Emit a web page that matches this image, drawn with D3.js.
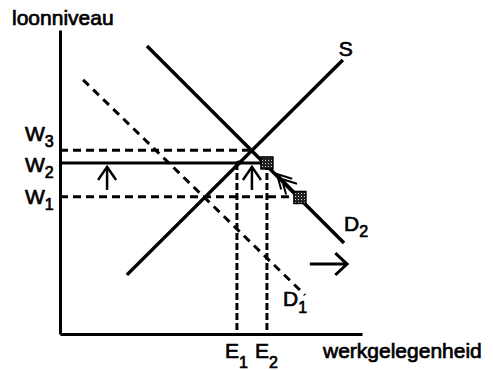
<!DOCTYPE html>
<html><head><meta charset="utf-8">
<script src="https://cdn.jsdelivr.net/npm/d3@7"></script>
<style>body{margin:0;background:#fff}svg{display:block}text{font-family:"Liberation Sans",Arial,Helvetica,sans-serif;fill:#000}</style>
</head><body><div id="chart"></div>
<script>
// ---- data ----
const yAxisTitle = "loonniveau";
const xAxisTitle = "werkgelegenheid";
const wageNames = ["W", "W", "W"];
const wageSubs = ["3", "2", "1"];
const wageValues = [61.2, 57, 45.7];
const empNames = ["E", "E"];
const empSubs = ["1", "2"];
const empValues = [59, 69];
const supplyX = [22.3, 94.3];
const supplyY = [19.7, 91.3];
const demand1X = [7.7, 81.7];
const demand1Y = [84.7, 13];
const demand2X = [29, 94.7];
const demand2Y = [96, 30.3];
const pointX = [69, 80];
const pointY = [57, 45.5];
const equilibriumX = 63.8;
const equilibriumY = 61.2;
const dotX = 59.5;
const dotY = 57;
const upArrowX = [15.7, 64];
const upArrowY = [48, 55.7];
const shiftArrowX = [83.3, 95.7];
const shiftArrowY = [23.3, 23.3];
const moveArrowX = [78.5, 72.3];
const moveArrowY = [47, 53.3];

// ---- drawing ----
const W = 493, H = 370;
const svg = d3.select("#chart").append("svg").attr("width", W).attr("height", H);
const x = d3.scaleLinear().domain([0, 100.7]).range([60, 362]);
const y = d3.scaleLinear().domain([0, 101.3]).range([334, 30]);

const defs = svg.append("defs");
const pat = defs.append("pattern").attr("id", "spk").attr("width", 3).attr("height", 3).attr("patternUnits", "userSpaceOnUse");
pat.append("rect").attr("width", 3).attr("height", 3).attr("fill", "#222");
pat.append("rect").attr("x", 1).attr("y", 1).attr("width", 1).attr("height", 1).attr("fill", "#ccc");

// axes
svg.append("g").attr("transform", `translate(0,${y(0)})`)
  .call(d3.axisBottom(x).tickValues([]).tickSizeOuter(0))
  .call(g => g.select(".domain").attr("stroke", "#000").attr("stroke-width", 3));
svg.append("g").attr("transform", `translate(${x(0)},0)`)
  .call(d3.axisLeft(y).tickValues([]).tickSizeOuter(0))
  .call(g => g.select(".domain").attr("stroke", "#000").attr("stroke-width", 3));

const line = (x1, y1, x2, y2) => svg.append("line")
  .attr("x1", x(x1)).attr("y1", y(y1)).attr("x2", x(x2)).attr("y2", y(y2))
  .attr("stroke", "#000").attr("stroke-width", 3);

// horizontal guides
line(0, wageValues[0], equilibriumX, wageValues[0]).attr("stroke-dasharray", "8,5");
line(0, wageValues[1], pointX[0], wageValues[1]);
line(0, wageValues[2], pointX[1], wageValues[2]).attr("stroke-dasharray", "8,5");
// vertical guides
line(empValues[0], wageValues[1], empValues[0], 0).attr("stroke-dasharray", "7,3");
line(empValues[1], wageValues[1], empValues[1], 0).attr("stroke-dasharray", "7,3");

// curves
line(supplyX[0], supplyY[0], supplyX[1], supplyY[1]).attr("stroke-width", 3.5);
line(demand2X[0], demand2Y[0], demand2X[1], demand2Y[1]).attr("stroke-width", 3.5);
line(demand1X[0], demand1Y[0], demand1X[1], demand1Y[1]).attr("stroke-dasharray", "8,6");

// dot
svg.append("circle").attr("cx", x(dotX)).attr("cy", y(dotY)).attr("r", 2.5).attr("fill", "#000");

// points
svg.selectAll(".pt").data(pointX).enter().append("rect")
  .attr("x", (d) => x(d) - 6).attr("y", (d, i) => y(pointY[i]) - 6)
  .attr("width", 12).attr("height", 12)
  .attr("fill", "url(#spk)").attr("stroke", "#000").attr("stroke-width", 1.5);

// arrows
function chevron(tx, ty, ang, len, spread, sw) {
  const a1 = ang + Math.PI - spread, a2 = ang + Math.PI + spread;
  svg.append("path")
    .attr("d", `M${tx + len * Math.cos(a1)},${ty + len * Math.sin(a1)}L${tx},${ty}L${tx + len * Math.cos(a2)},${ty + len * Math.sin(a2)}`)
    .attr("fill", "none").attr("stroke", "#000").attr("stroke-width", sw);
}
upArrowX.forEach(v => {
  line(v, upArrowY[0], v, upArrowY[1]).attr("stroke-width", 2.5);
  chevron(x(v), y(upArrowY[1]), -Math.PI / 2, 16, 0.6, 2.5);
});
line(shiftArrowX[0], shiftArrowY[0], shiftArrowX[1], shiftArrowY[1]).attr("stroke-width", 3);
chevron(x(shiftArrowX[1]), y(shiftArrowY[1]), 0, 16, 0.75, 3);
{
  const x1 = x(moveArrowX[0]), y1 = y(moveArrowY[0]), x2 = x(moveArrowX[1]), y2 = y(moveArrowY[1]);
  const ang = Math.atan2(y2 - y1, x2 - x1);
  svg.append("line").attr("x1", x1).attr("y1", y1).attr("x2", x2).attr("y2", y2).attr("stroke", "#000").attr("stroke-width", 2);
  chevron(x2, y2, ang, 16, 0.5, 2);
  chevron(x2 + 7 * Math.cos(ang + Math.PI), y2 + 7 * Math.sin(ang + Math.PI), ang, 16, 0.5, 2);
}

// text
const fs = 21, sfs = 16, tsw = 0.7;
function subLabel(tx, ty, main, sub, subDy) {
  const t = svg.append("text").attr("x", tx).attr("y", ty).attr("font-size", fs)
    .attr("stroke", "#000").attr("stroke-width", tsw);
  t.append("tspan").text(main);
  t.append("tspan").attr("font-size", sfs).attr("dy", subDy).text(sub);
  return t;
}
svg.append("text").attr("x", 12).attr("y", 25).attr("font-size", fs)
  .attr("stroke", "#000").attr("stroke-width", tsw).text(yAxisTitle);
svg.append("text").attr("x", 323).attr("y", 358).attr("font-size", fs)
  .attr("stroke", "#000").attr("stroke-width", tsw).text(xAxisTitle);

const wageLabelOffset = [-9, 9, 7];
wageValues.forEach((v, i) => subLabel(25, y(v) + wageLabelOffset[i], wageNames[i], wageSubs[i], 6));
empValues.forEach((v, i) => subLabel(x(v) - 12, 358, empNames[i], empSubs[i], 10));

svg.append("text").attr("x", x(supplyX[1]) - 4).attr("y", y(supplyY[1]) - 4).attr("font-size", fs)
  .attr("stroke", "#000").attr("stroke-width", tsw).text("S");
subLabel(x(demand2X[1]), y(demand2Y[1]) - 12, "D", "2", 6);
subLabel(x(demand1X[1]) - 22, y(demand1Y[1]) + 11, "D", "1", 7);
</script></body></html>
